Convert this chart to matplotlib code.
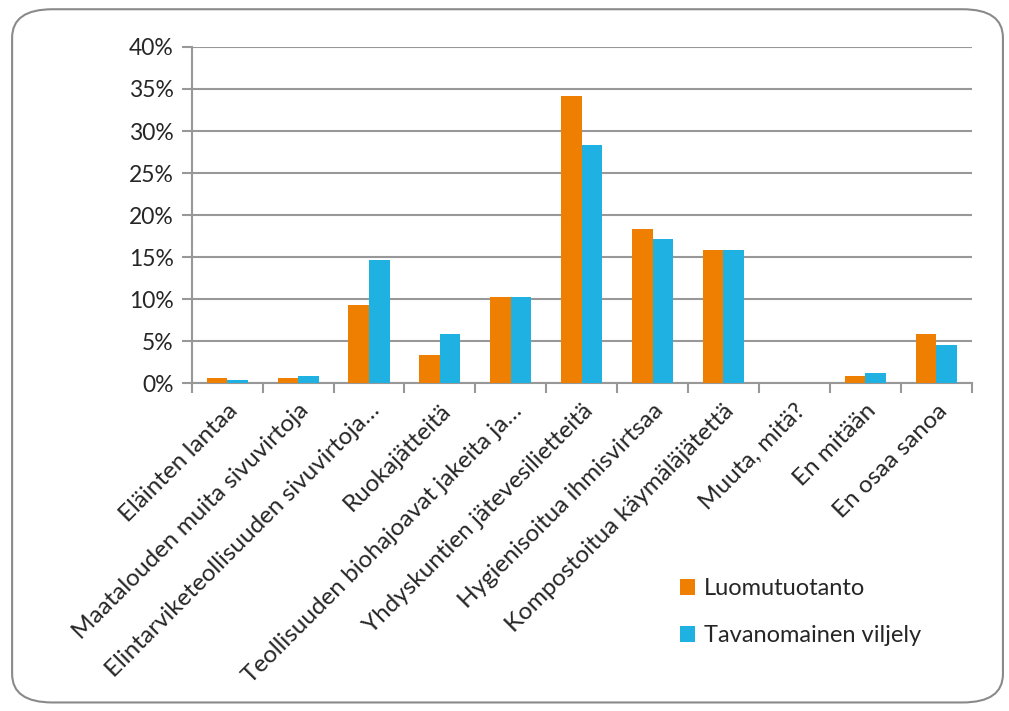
import numpy as np
import matplotlib.pyplot as plt
from matplotlib.patches import FancyBboxPatch

# survey answers, share of respondents per group
categories = ['Eläinten lantaa', 'Maatalouden muita sivuvirtoja',
              'Elintarviketeollisuuden sivuvirtoja…', 'Ruokajätteitä',
              'Teollisuuden biohajoavat jakeita ja…', 'Yhdyskuntien jätevesilietteitä',
              'Hygienisoitua ihmisvirtsaa', 'Kompostoitua käymäläjätettä',
              'Muuta, mitä?', 'En mitään', 'En osaa sanoa']
luomu = [0.6, 0.6, 9.3, 3.4, 10.3, 34.2, 18.3, 15.8, 0.0, 0.9, 5.8]
tavanomainen = [0.4, 0.9, 14.6, 5.8, 10.3, 28.3, 17.1, 15.9, 0.0, 1.2, 4.5]
yticks = [0, 5, 10, 15, 20, 25, 30, 35, 40]

orange = '#EF7F00'
blue = '#1FB1E1'
grid_col = '#989898'
text_col = '#262626'

plt.rcParams['font.family'] = ['Lato', 'DejaVu Sans']

fig = plt.figure(figsize=(10.09, 7.11), dpi=100)
ax = fig.add_axes([0.190, 0.461, 0.773, 0.473])

x = np.arange(len(categories))
w = 0.29
ax.bar(x - w / 2, luomu, w, color=orange, label='Luomutuotanto', zorder=3)
ax.bar(x + w / 2, tavanomainen, w, color=blue, label='Tavanomainen viljely', zorder=3)

ax.set_xlim(-0.5, len(categories) - 0.5)
ax.set_ylim(0, 40)
ax.set_yticks(yticks)
ax.set_yticklabels([f'{v}%' for v in yticks], fontsize=16.5, color=text_col)
ax.yaxis.grid(True, color=grid_col, linewidth=1.5, zorder=0)

# ticks sit between the categories, labels under the centres
ax.set_xticks(np.arange(-0.5, len(categories), 1.0))
ax.set_xticklabels([])
ax.set_xticks(x, minor=True)
ax.set_xticklabels(categories, minor=True, rotation=45, ha='right',
                   rotation_mode='anchor', fontsize=17.5, color=text_col)
ax.tick_params(axis='x', which='minor', length=0, pad=12)
ax.tick_params(axis='x', which='major', length=7, width=1.5, color=grid_col)
ax.tick_params(axis='y', length=7, width=1.5, color=grid_col, pad=6)

for s in ['top', 'right']:
    ax.spines[s].set_visible(False)
for s in ['left', 'bottom']:
    ax.spines[s].set_color(grid_col)
    ax.spines[s].set_linewidth(1.5)

fig.legend(loc='upper left', bbox_to_anchor=(0.653, 0.217), frameon=False,
           fontsize=17, handlelength=0.65, handleheight=0.65,
           handletextpad=0.35, labelspacing=1.1, labelcolor=text_col)

# rounded outer frame
frame = FancyBboxPatch((0.012, 0.012), 0.982, 0.975, transform=fig.transFigure,
                       boxstyle='round,pad=0,rounding_size=0.04',
                       facecolor='none', edgecolor='#8a8a8a', linewidth=1.5)
fig.patches.append(frame)

fig.savefig('out.png', dpi=100)
